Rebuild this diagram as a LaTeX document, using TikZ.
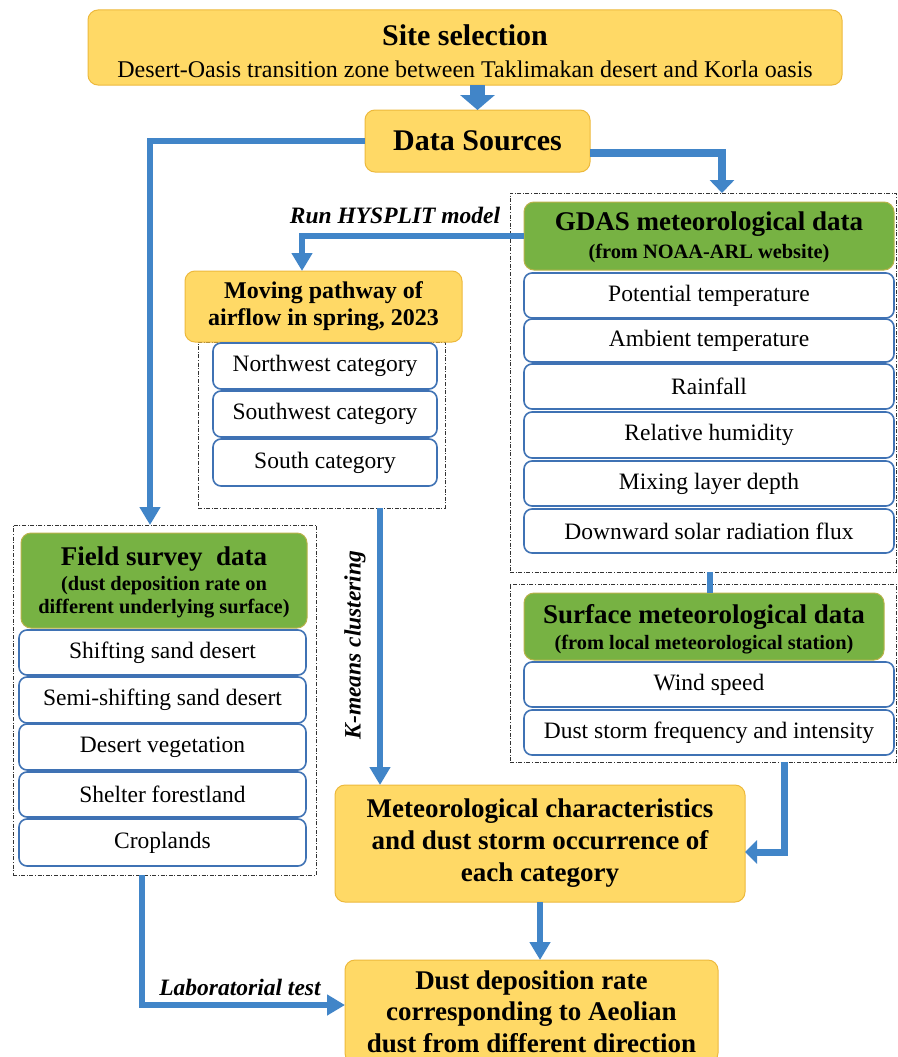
\documentclass[tikz,border=0pt]{standalone}
\usepackage{fontspec}
\setmainfont{Liberation Serif}
\usetikzlibrary{arrows.meta}
\definecolor{yel}{HTML}{FFD966}
\definecolor{yelb}{HTML}{EDB93C}
\definecolor{grn}{HTML}{77B243}
\definecolor{grnb}{HTML}{B9B24A}
\definecolor{arrb}{HTML}{4185C8}
\definecolor{boxb}{HTML}{3F72B4}
\definecolor{dgray}{HTML}{333333}
\tikzset{
  every node/.style={inner sep=0pt, outer sep=0pt},
  ybox/.style={rounded corners=10pt, fill=yel, draw=yelb, line width=1pt, align=center},
  gbox/.style={rounded corners=10pt, fill=grn, draw=grnb, line width=1pt},
  wbox/.style={rounded corners=8pt, fill=white, draw=boxb, line width=1.6pt, font=\fontsize{23.5}{28}\selectfont},
  dbox/.style={draw=dgray, line width=0.9pt, dash pattern=on 4pt off 1.6pt on 1pt off 1.6pt},
  arr/.style={draw=arrb, line width=6pt, -{Triangle[width=20pt,length=18pt]}},
  conn/.style={draw=arrb, line width=6pt},
  big/.style={font=\bfseries\fontsize{30}{34}\selectfont},
  ttl/.style={font=\bfseries\fontsize{27}{32}\selectfont},
  sub/.style={font=\bfseries\fontsize{20.4}{23}\selectfont, align=center},
  lbl/.style={font=\bfseries\itshape\fontsize{23.5}{28}\selectfont},
}
\begin{document}
\begin{tikzpicture}[x=1pt, y=-1pt]
\useasboundingbox (0,0) rectangle (897,1057);
\clip (0,0) rectangle (897,1057);
\fill[white] (0,0) rectangle (897,1057);

% Site selection
\node[ybox, minimum width=754, minimum height=75] (site) at (465,47.5) {};
\node[big] (siteT) at (465,35) {Site selection};
\node[font=\fontsize{24}{28}\selectfont] (siteS) at (465,69) {Desert-Oasis transition zone between Taklimakan desert and Korla oasis};

% Data sources
\node[ybox, big, minimum width=225, minimum height=62] (data) at (477.5,141) {Data Sources};

% GDAS group
\node[dbox, minimum width=386, minimum height=379] (gdasd) at (703,382.5) {};
\node[gbox, minimum width=370, minimum height=68] (gdasg) at (709,236) {};
\node[ttl] (gdasT) at (709,224) {GDAS meteorological data};
\node[sub] (gdasS) at (709,253) {(from NOAA-ARL website)};
\node[wbox, minimum width=370, minimum height=45] (g1) at (709,295.5) {Potential temperature};
\node[wbox, minimum width=370, minimum height=43] (g2) at (709,340.5) {Ambient temperature};
\node[wbox, minimum width=370, minimum height=45] (g3) at (709,386.5) {Rainfall};
\node[wbox, minimum width=370, minimum height=46] (g4) at (709,435) {Relative humidity};
\node[wbox, minimum width=370, minimum height=45] (g5) at (709,483.5) {Mixing layer depth};
\node[wbox, minimum width=370, minimum height=44] (g6) at (709,531) {Downward solar radiation flux};

% Moving pathway group
\node[dbox, minimum width=247, minimum height=166] (catd) at (321.5,425) {};
\node[ybox, font=\bfseries\fontsize{24}{27}\selectfont, minimum width=277, minimum height=71] (move) at (323.5,306.5) {Moving pathway of\\airflow in spring, 2023};
\node[wbox, minimum width=224, minimum height=46] (c1) at (325,366) {Northwest category};
\node[wbox, minimum width=224, minimum height=46] (c2) at (325,414) {Southwest category};
\node[wbox, minimum width=224, minimum height=47] (c3) at (325,462.5) {South category};

% Field survey group
\node[dbox, minimum width=303, minimum height=350] (fieldd) at (164.5,700) {};
\node[gbox, minimum width=286, minimum height=95] (fieldg) at (164,580.5) {};
\node[ttl] (fieldT) at (164,559) {Field survey\ \ data};
\node[sub] (fieldS) at (164,597) {(dust deposition rate on\\different underlying surface)};
\node[wbox, minimum width=287, minimum height=45] (f1) at (162.5,652.5) {Shifting sand desert};
\node[wbox, minimum width=287, minimum height=46] (f2) at (162.5,700) {Semi-shifting sand desert};
\node[wbox, minimum width=287, minimum height=46] (f3) at (162.5,747) {Desert vegetation};
\node[wbox, minimum width=287, minimum height=45] (f4) at (162.5,794.5) {Shelter forestland};
\node[wbox, minimum width=287, minimum height=47] (f5) at (162.5,842.5) {Croplands};

% Surface group
\node[dbox, minimum width=386, minimum height=178] (surfd) at (703,673) {};
\node[gbox, minimum width=360, minimum height=67] (surfg) at (704,626.5) {};
\node[ttl] (surfT) at (704,617) {Surface meteorological data};
\node[sub] (surfS) at (704,645) {(from local meteorological station)};
\node[wbox, minimum width=370, minimum height=45] (s1) at (709,684.5) {Wind speed};
\node[wbox, minimum width=370, minimum height=45] (s2) at (709,732.5) {Dust storm frequency and intensity};

% Results
\node[ybox, font=\bfseries\fontsize{27}{32}\selectfont, minimum width=410, minimum height=117] (met) at (540,843.5) {Meteorological characteristics\\and dust storm occurrence of\\each category};
\node[ybox, font=\bfseries\fontsize{27}{31.5}\selectfont, minimum width=373, minimum height=103] (dust) at (531.5,1011.5) {Dust deposition rate\\corresponding to Aeolian\\dust from different direction};

% Labels
\node[lbl] (hys) at (395,215) {Run HYSPLIT model};
\node[lbl, rotate=90] (km) at (355,645) {K-means clustering};
\node[lbl] (lab) at (240,987) {Laboratorial test};

% Connectors
\draw[arr, line width=15pt, -{Triangle[width=34pt,length=15pt]}] (site.south -| data.north) -- (data.north);
\draw[arr] (data.west) -| ([xshift=-14.5pt]fieldd.north);
\draw[arr, line width=8pt, -{Triangle[width=24pt,length=13pt]}] ([yshift=-12pt]data.east) -| ([xshift=19pt]gdasd.north);
\draw[arr] (gdasg.west) -| ([xshift=-21.5pt]move.north);
\draw[arr] ([xshift=58.5pt]catd.south) -- ([xshift=58.5pt]catd.south |- met.north);
\draw[conn] ([xshift=7pt]gdasd.south) -- ([xshift=7pt]gdasd.south |- surfg.north);
\draw[arr, line width=7pt, -{Triangle[width=23pt,length=12pt]}] ([xshift=81pt]surfd.south) |- ([yshift=-8.5pt]met.east);
\draw[arr] (met.south) -- (met.south |- dust.north);
\draw[arr] ([xshift=-22.5pt]fieldd.south) |- ([yshift=6.5pt]dust.west);
\end{tikzpicture}
\end{document}
